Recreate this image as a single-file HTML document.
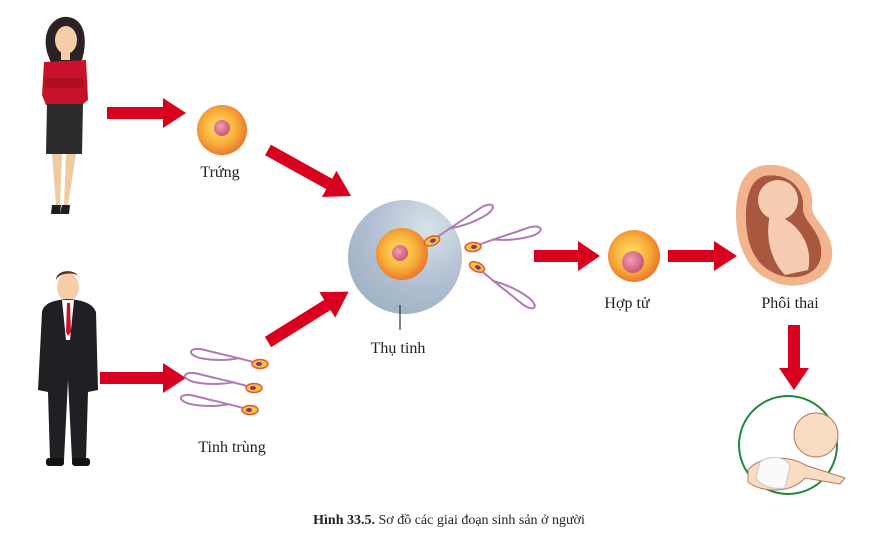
<!DOCTYPE html>
<html><head><meta charset="utf-8"><style>
html,body{margin:0;padding:0;background:#fff;}
svg{display:block;}
text{font-family:"Liberation Serif","Noto Serif CJK SC",serif;fill:#222;}
</style></head><body>
<svg width="879" height="550" viewBox="0 0 879 550" xmlns="http://www.w3.org/2000/svg">
<defs>
<radialGradient id="egg" cx="45%" cy="45%" r="55%"><stop offset="0" stop-color="#fde36a"/><stop offset="0.6" stop-color="#f8b03a"/><stop offset="1" stop-color="#ec7a2c"/></radialGradient>
<radialGradient id="nuc" cx="40%" cy="40%" r="60%"><stop offset="0" stop-color="#f2a0b4"/><stop offset="1" stop-color="#c85878"/></radialGradient>
<radialGradient id="zona" cx="70%" cy="25%" r="80%"><stop offset="0" stop-color="#d6e3e6"/><stop offset="0.6" stop-color="#b3bfd4"/><stop offset="1" stop-color="#9fb4c4"/></radialGradient>
<g id="sperm"><path d="M0 0 C20 -6 40 -10 55 -14 C70 -18 75 -10 60 -6 C45 -3 30 -4 20 -6" fill="none" stroke="#b07ab8" stroke-width="2"/><ellipse cx="0" cy="0" rx="8" ry="4.5" fill="#f4c23c" stroke="#e05a3a" stroke-width="1.5"/><ellipse cx="1" cy="0" rx="3" ry="2" fill="#7a3a7a"/></g>
</defs>

<!-- woman -->
<path d="M48 55 C40 30 55 15 68 17 C85 19 88 40 82 60 L76 65 L52 66 Z" fill="#2a2224"/>
<ellipse cx="66" cy="40" rx="11" ry="14" fill="#f5cda8"/>
<rect x="61" y="52" width="9" height="8" fill="#f5cda8"/>
<path d="M44 62 L86 60 L88 100 L82 105 L46 105 L42 95 Z" fill="#c8122a"/>
<rect x="44" y="78" width="40" height="10" rx="4" fill="#b00e22"/>
<path d="M47 104 L83 104 L82 154 L46 154 Z" fill="#2c2b2e"/>
<path d="M52 154 L62 154 L60 205 L56 205 Z M66 154 L76 154 L68 205 L64 205 Z" fill="#f0caa0"/>
<path d="M52 205 L61 205 L60 214 L51 214 Z M62 205 L70 205 L69 214 L60 214 Z" fill="#1e1e1e"/>

<!-- man -->
<ellipse cx="68" cy="287" rx="11" ry="14" fill="#f5cda8"/>
<path d="M56 280 C56 268 80 268 80 281 L79 276 C72 272 62 273 57 278 Z" fill="#5a3320"/>
<path d="M42 312 C44 302 56 300 68 299 C80 300 92 302 96 312 L98 390 L88 392 L86 460 L72 460 L68 380 L64 460 L50 460 L48 392 L38 390 Z" fill="#1f1f24"/>
<path d="M62 300 L74 300 L70 340 L66 340 Z" fill="#fff"/>
<path d="M67 303 L70 303 L71 332 L68 336 L66 332 Z" fill="#c8122a"/>
<rect x="46" y="458" width="18" height="8" rx="3" fill="#111"/><rect x="72" y="458" width="18" height="8" rx="3" fill="#111"/>

<!-- arrows -->
<g fill="#d9001f">
<path d="M107 107 L163 107 L163 98 L186 113 L163 128 L163 119 L107 119 Z"/>
<path d="M100 372 L163 372 L163 363 L186 378 L163 393 L163 384 L100 384 Z"/>
<path d="M534 250 L578 250 L578 241 L600 256 L578 271 L578 262 L534 262 Z"/>
<path d="M668 250 L714 250 L714 241 L737 256 L714 271 L714 262 L668 262 Z"/>
<path d="M788 325 L800 325 L800 368 L809 368 L794 390 L779 368 L788 368 Z"/>
<g transform="translate(268,150) rotate(29)"><path d="M0 -6 L70 -6 L70 -15 L95 0 L70 15 L70 6 L0 6 Z"/></g>
<g transform="translate(268,342) rotate(-32)"><path d="M0 -6 L70 -6 L70 -15 L95 0 L70 15 L70 6 L0 6 Z"/></g>
</g>

<!-- egg -->
<circle cx="222" cy="130" r="25" fill="url(#egg)"/>
<circle cx="222" cy="128" r="8" fill="url(#nuc)"/>
<text x="220" y="177" font-size="16" text-anchor="middle">Trứng</text>

<!-- fertilization -->
<circle cx="405" cy="257" r="57" fill="url(#zona)"/>
<circle cx="402" cy="254" r="26" fill="url(#egg)"/>
<circle cx="400" cy="253" r="8" fill="url(#nuc)"/>
<line x1="400" y1="305" x2="400" y2="330" stroke="#333" stroke-width="1.2"/>
<use href="#sperm" transform="translate(432,241) rotate(-20)"/>
<use href="#sperm" transform="translate(473,247) rotate(-5)"/>
<use href="#sperm" transform="translate(477,267) rotate(25) scale(1,-1)"/>
<text x="398" y="353" font-size="16" text-anchor="middle">Thụ tinh</text>

<!-- sperms -->
<use href="#sperm" transform="translate(260,364) rotate(180) scale(1,-1)"/>
<use href="#sperm" transform="translate(254,388) rotate(180) scale(1,-1)"/>
<use href="#sperm" transform="translate(250,410) rotate(180) scale(1,-1)"/>
<text x="232" y="452" font-size="16" text-anchor="middle">Tinh trùng</text>

<!-- zygote -->
<circle cx="634" cy="256" r="26" fill="url(#egg)"/>
<circle cx="633" cy="262" r="11" fill="url(#nuc)"/>
<text x="627" y="308" font-size="16" text-anchor="middle">Hợp tử</text>

<!-- fetus -->
<path d="M760 166 C790 160 815 180 812 205 C810 220 835 230 832 258 C828 285 790 292 770 280 C745 270 735 240 736 210 C737 185 745 170 760 166 Z" fill="#f2b48e"/>
<path d="M764 176 C788 172 805 188 803 208 C802 222 824 232 821 256 C818 278 790 282 772 272 C752 262 745 238 746 212 C747 192 752 180 764 176 Z" fill="#a8583e"/>
<circle cx="778" cy="200" r="20" fill="#f6cdb3"/>
<path d="M770 215 C790 215 815 240 808 270 L785 275 C770 260 765 235 770 215 Z" fill="#f6cdb3"/>
<text x="790" y="308" font-size="16" text-anchor="middle">Phôi thai</text>

<!-- baby -->
<circle cx="788" cy="445" r="49" fill="none" stroke="#1e8a3a" stroke-width="2"/>
<circle cx="816" cy="435" r="22" fill="#f8dcc4" stroke="#b47860" stroke-width="1"/>
<path d="M748 470 C760 455 790 455 805 465 L845 478 L840 484 L805 478 C790 495 760 492 748 482 Z" fill="#f8dcc4" stroke="#b47860" stroke-width="1"/>
<path d="M760 462 C770 455 785 456 790 466 L785 488 C772 490 760 485 756 478 Z" fill="#fafafa" stroke="#c9c9c9" stroke-width="1"/>

<!-- caption -->
<text x="449" y="524" font-size="14" text-anchor="middle"><tspan font-weight="bold">Hình 33.5.</tspan> Sơ đồ các giai đoạn sinh sản ở người</text>
</svg>
</body></html>
